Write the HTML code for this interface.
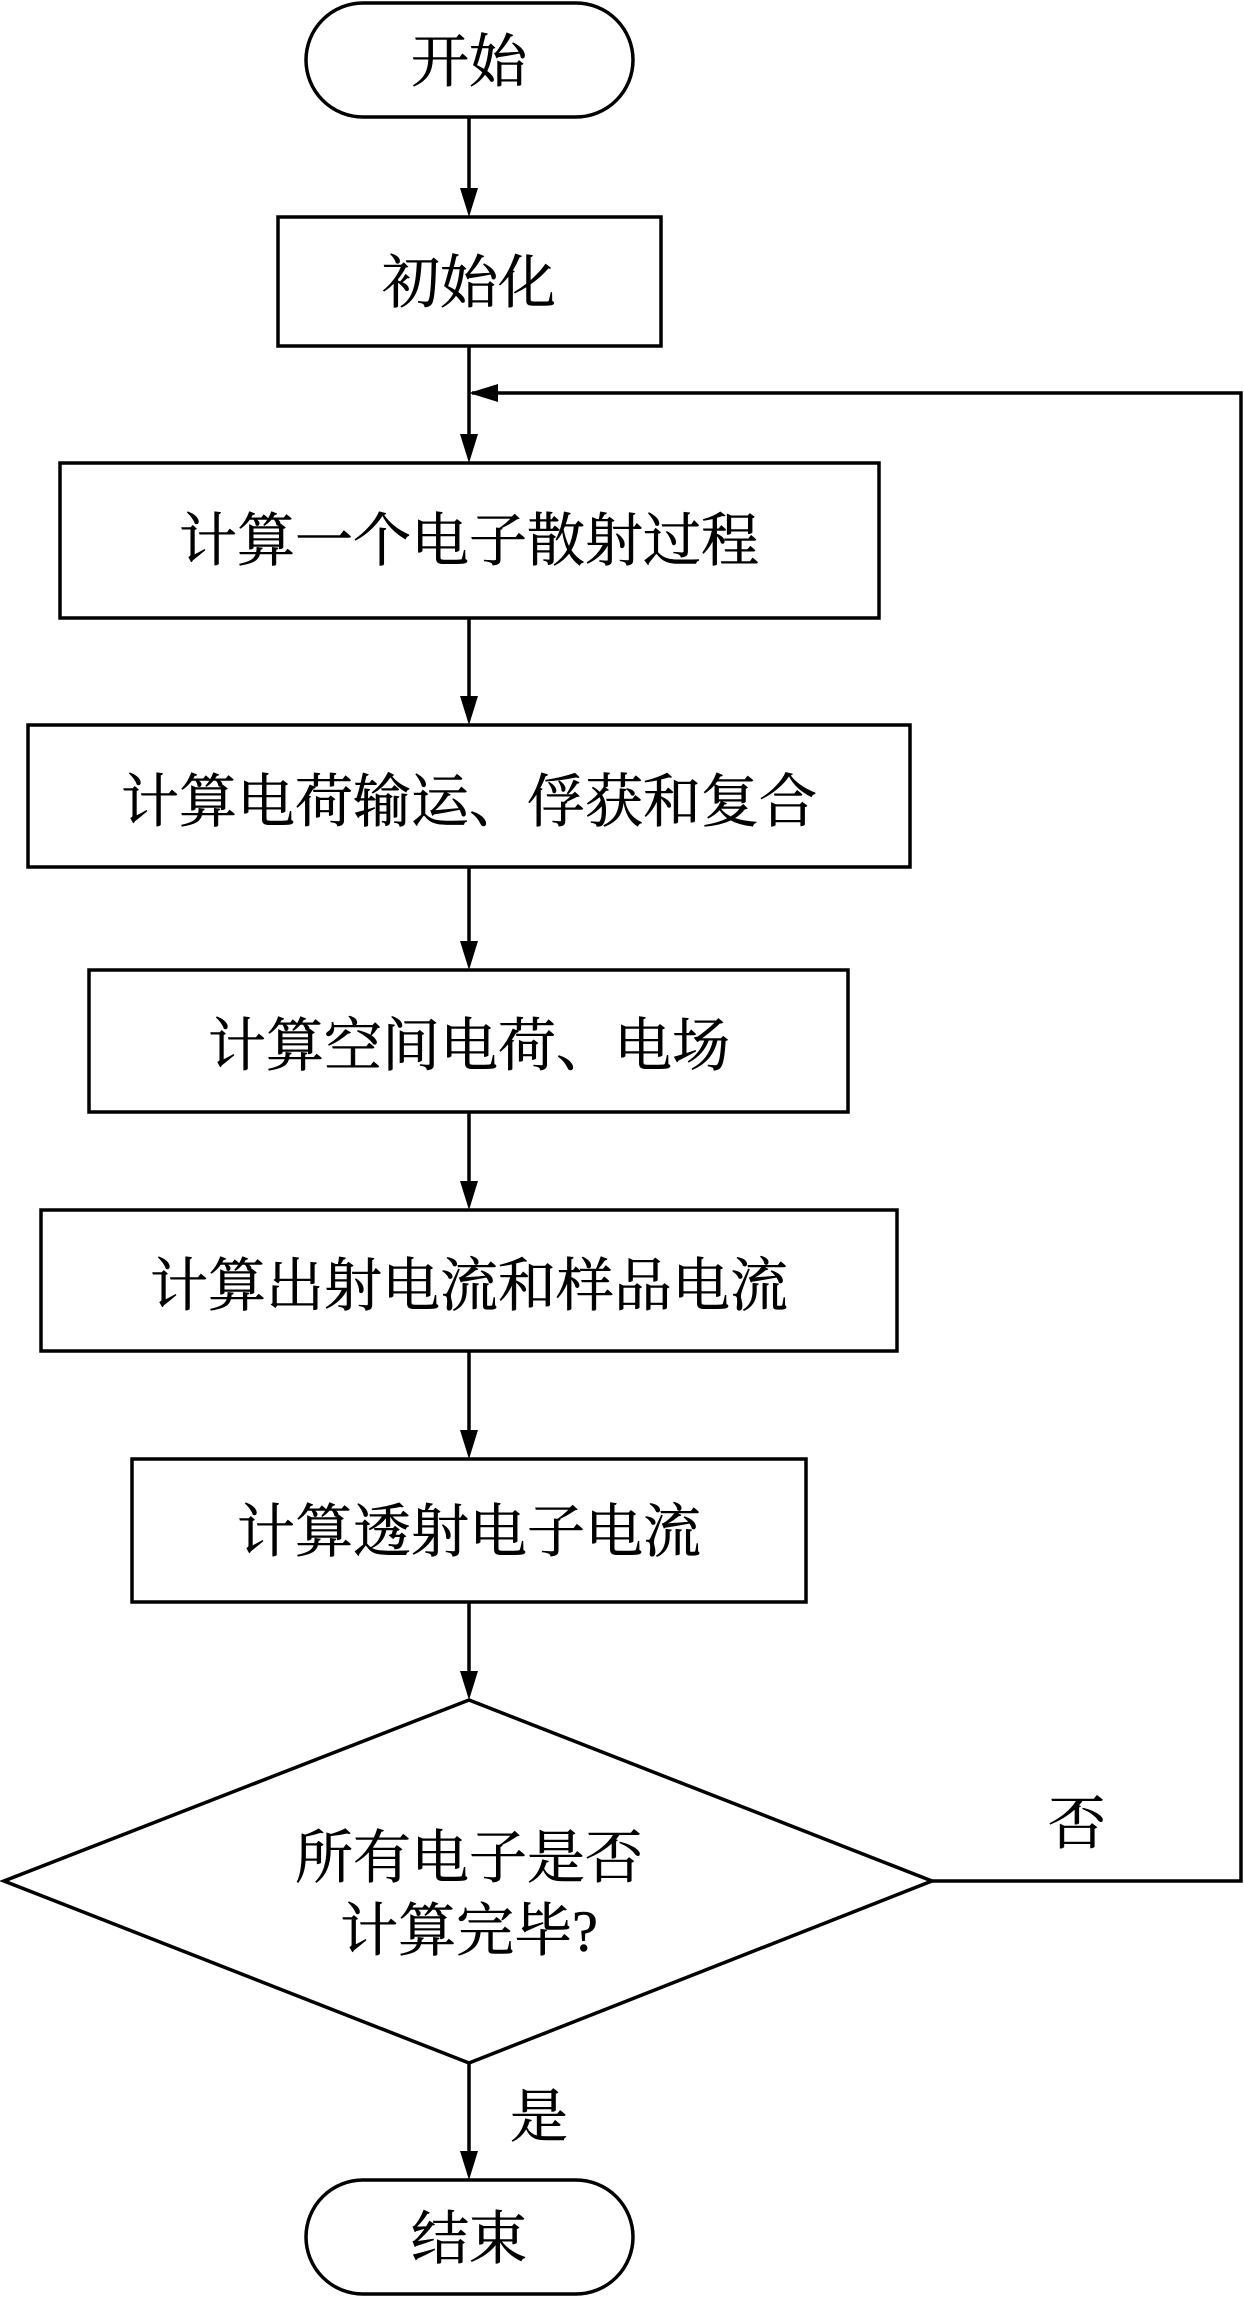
<!DOCTYPE html>
<html><head><meta charset="utf-8"><style>
html,body{margin:0;padding:0;background:#fff;}
svg{display:block;}
text{font-family:"Liberation Serif","Noto Serif CJK SC",serif;font-size:58px;fill:#000;stroke:#000;stroke-width:0.6;text-anchor:middle;dominant-baseline:central;}
</style></head><body>
<svg width="1244" height="2297" viewBox="0 0 1244 2297" xmlns="http://www.w3.org/2000/svg">
<g fill="none" stroke="#000" stroke-width="3.5">
<rect x="306" y="3" width="327" height="114" rx="57"/>
<rect x="278" y="217" width="383" height="129"/>
<rect x="60" y="463" width="819" height="155"/>
<rect x="28" y="725" width="882" height="142"/>
<rect x="89" y="970" width="759" height="142"/>
<rect x="41" y="1210" width="856" height="141"/>
<rect x="132" y="1459" width="674" height="143"/>
<polygon points="469,1700 932,1881 469,2063 4,1881"/>
<rect x="306" y="2180" width="327" height="114" rx="57"/>
<polyline points="932,1881 1241,1881 1241,393 472,393"/>
</g>
<g stroke="#000" stroke-width="3.5">
<line x1="469" y1="117" x2="469" y2="190"/>
<line x1="469" y1="346" x2="469" y2="436"/>
<line x1="469" y1="618" x2="469" y2="698"/>
<line x1="469" y1="867" x2="469" y2="943"/>
<line x1="469" y1="1112" x2="469" y2="1183"/>
<line x1="469" y1="1351" x2="469" y2="1432"/>
<line x1="469" y1="1602" x2="469" y2="1673"/>
<line x1="469" y1="2063" x2="469" y2="2153"/>
</g>
<g fill="#000">
<path d="M460,188 L478,188 L469,217 z"/>
<path d="M460,434 L478,434 L469,463 z"/>
<path d="M460,696 L478,696 L469,725 z"/>
<path d="M460,941 L478,941 L469,970 z"/>
<path d="M460,1181 L478,1181 L469,1210 z"/>
<path d="M460,1430 L478,1430 L469,1459 z"/>
<path d="M460,1671 L478,1671 L469,1700 z"/>
<path d="M460,2151 L478,2151 L469,2180 z"/>
<path d="M469,393 L498,384 L498,402 z"/>
</g>
<text x="469" y="62">开始</text>
<text x="469" y="283">初始化</text>
<text x="469" y="541">计算一个电子散射过程</text>
<text x="469" y="802">计算电荷输运、俘获和复合</text>
<text x="469" y="1046">计算空间电荷、电场</text>
<text x="469" y="1286">计算出射电流和样品电流</text>
<text x="469" y="1532">计算透射电子电流</text>
<text x="469" y="1858">所有电子是否</text>
<text x="469" y="1931">计算完毕?</text>
<text x="1077" y="1824">否</text>
<text x="539" y="2117">是</text>
<text x="469" y="2239">结束</text>
</svg>
</body></html>
